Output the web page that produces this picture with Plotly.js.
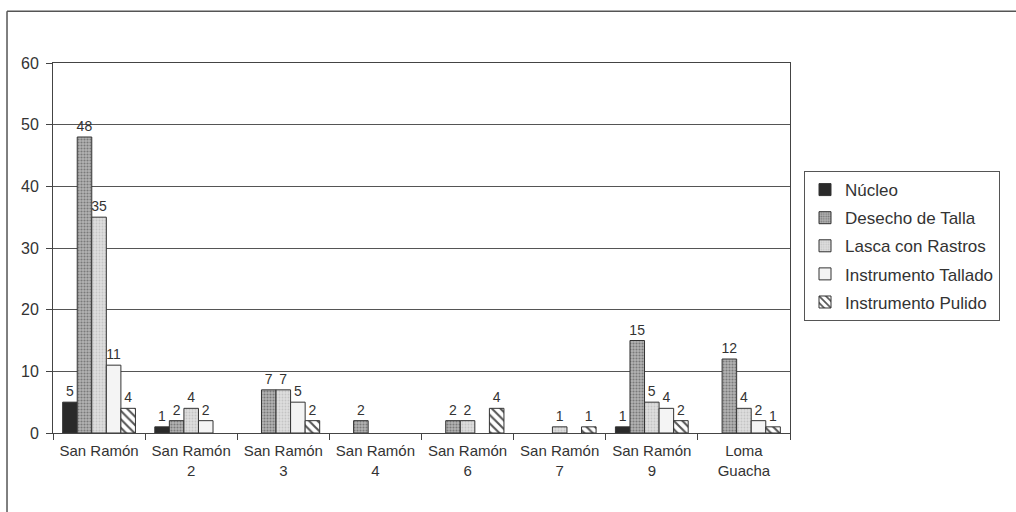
<!DOCTYPE html>
<html>
<head>
<meta charset="utf-8">
<script src="https://cdn.plot.ly/plotly-3.0.1.min.js"></script>
<style>
html,body{margin:0;padding:0;background:#fff;}
#chart{width:1016px;height:512px;}
</style>
</head>
<body>
<div id="chart"></div>
<script>
const categories = ["San Ramón", "San Ramón<br>2", "San Ramón<br>3", "San Ramón<br>4", "San Ramón<br>6", "San Ramón<br>7", "San Ramón<br>9", "Loma<br>Guacha"];
const seriesNames = ["Núcleo", "Desecho de Talla", "Lasca con Rastros", "Instrumento Tallado", "Instrumento Pulido"];
const nucleo = [5, 1, 0, 0, 0, 0, 1, 0];
const desecho = [48, 2, 7, 2, 2, 0, 15, 12];
const lasca = [35, 4, 7, 0, 2, 1, 5, 4];
const tallado = [11, 2, 5, 0, 0, 0, 4, 2];
const pulido = [4, 0, 2, 0, 4, 1, 2, 1];
const yTicks = [0, 10, 20, 30, 40, 50, 60];

const seriesValues = [nucleo, desecho, lasca, tallado, pulido];
const styles = [
  {color: "#2a2a2a"},
  {color: "#a8a8a8", pattern: {shape: ".", fgcolor: "#7a7a7a", bgcolor: "#b4b4b4", size: 3, solidity: 0.4}},
  {color: "#d6d6d6", pattern: {shape: ".", fgcolor: "#c4c4c4", bgcolor: "#dedede", size: 3, solidity: 0.3}},
  {color: "#f4f4f4"},
  {color: "#ffffff", pattern: {shape: "\\", fgcolor: "#555555", bgcolor: "#ffffff", size: 6, solidity: 0.35}}
];

const traces = seriesNames.map((name, i) => ({
  type: "bar",
  name: name,
  x: categories,
  y: seriesValues[i].map(v => v > 0 ? v : null),
  text: seriesValues[i].map(v => v > 0 ? String(v) : ""),
  textposition: "outside",
  constraintext: "none",
  textfont: {family: "Liberation Sans, Arial, sans-serif", size: 14, color: "#333"},
  cliponaxis: false,
  legendgroup: "g" + i,
  marker: Object.assign({line: {color: "#333", width: 1}}, styles[i])
}));

const layout = {
  width: 1016,
  height: 512,
  margin: {l: 53, r: 226, t: 63, b: 79},
  paper_bgcolor: "#ffffff",
  plot_bgcolor: "#ffffff",
  font: {family: "Liberation Sans, Arial, sans-serif", size: 14, color: "#333"},
  barmode: "group",
  bargap: 0.21,
  bargroupgap: 0,
  showlegend: true,
  legend: {
    x: 1.019, y: 0.708, xanchor: "left", yanchor: "top",
    bordercolor: "#555", borderwidth: 1, bgcolor: "#fff",
    font: {size: 17, color: "#333"},
    traceorder: "grouped",
    tracegroupgap: 3,
    itemwidth: 30
  },
  xaxis: {
    type: "category",
    tickson: "boundaries",
    ticks: "outside",
    ticklen: 6,
    tickcolor: "#444",
    showline: true,
    linecolor: "#444",
    linewidth: 1,
    mirror: true,
    showgrid: false,
    ticklabelstandoff: 4,
    tickfont: {size: 15, color: "#333"}
  },
  yaxis: {
    range: [0, 60],
    tickvals: yTicks,
    ticks: "outside",
    ticklen: 6,
    tickcolor: "#444",
    showline: true,
    linecolor: "#444",
    linewidth: 1,
    mirror: true,
    showgrid: true,
    gridcolor: "#555",
    gridwidth: 1,
    zeroline: false,
    ticklabelstandoff: 4,
    tickfont: {size: 16, color: "#333"}
  },
  shapes: [
    {type: "line", xref: "paper", yref: "paper", x0: -0.0624, x1: -0.0624, y0: 1.1397, y1: -0.3, line: {color: "#555", width: 1.5}},
    {type: "line", xref: "paper", yref: "paper", x0: -0.0624, x1: 1.35, y0: 1.1397, y1: 1.1397, line: {color: "#555", width: 1.5}}
  ]
};

Plotly.newPlot("chart", traces, layout, {displayModeBar: false, staticPlot: true});
</script>
</body>
</html>
